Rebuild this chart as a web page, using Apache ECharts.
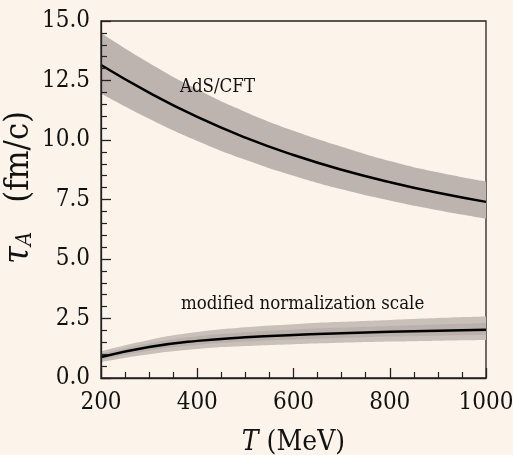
<!DOCTYPE html>
<html>
<head>
<meta charset="utf-8">
<script src="https://cdn.jsdelivr.net/npm/echarts@6/dist/echarts.min.js"></script>
<style>
  html, body { margin: 0; padding: 0; background: #fcf4ea; }
  #main { width: 513px; height: 455px; }
</style>
</head>
<body>
<div id="main"></div>
<script>
// temperatures (MeV)
var temps = [200, 300, 400, 500, 600, 700, 800, 900, 1000];
// AdS/CFT curve and its band
var adsMid = [13.15, 11.99, 10.97, 10.1, 9.37, 8.75, 8.23, 7.78, 7.4];
var adsHi = [14.5, 13.24, 12.13, 11.18, 10.39, 9.72, 9.12, 8.64, 8.25];
var adsLo = [11.95, 10.89, 9.96, 9.17, 8.5, 7.93, 7.46, 7.05, 6.7];
// modified normalization scale curve and its bands
var modMid = [0.88, 1.3, 1.56, 1.71, 1.81, 1.88, 1.94, 1.99, 2.03];
var modHi = [1.12, 1.6, 1.93, 2.13, 2.26, 2.36, 2.44, 2.52, 2.58];
var modLo = [0.67, 1.0, 1.22, 1.34, 1.42, 1.48, 1.53, 1.57, 1.6];
var modInHi = [1.01, 1.45, 1.75, 1.92, 2.04, 2.12, 2.19, 2.25, 2.31];
var modInLo = [0.77, 1.15, 1.39, 1.53, 1.62, 1.68, 1.74, 1.78, 1.82];

var FONT = "'DejaVu Serif Condensed', 'DejaVu Serif', serif";
var INK = '#111';

function diff(a, b) {
  var out = [];
  for (var i = 0; i < a.length; i++) {
    out.push(+(a[i] - b[i]).toFixed(3));
  }
  return out;
}
// band = invisible base + stacked filled difference (on the hidden category axis)
function band(name, lo, hi, color) {
  return [
    {
      type: 'line', xAxisIndex: 1, stack: name, data: lo, smooth: true,
      symbol: 'none', lineStyle: {opacity: 0}, silent: true
    },
    {
      type: 'line', xAxisIndex: 1, stack: name, data: diff(hi, lo), smooth: true,
      symbol: 'none', lineStyle: {opacity: 0}, silent: true,
      areaStyle: {color: color, opacity: 1}
    }
  ];
}
function curve(ys) {
  return {
    type: 'line', xAxisIndex: 1, data: ys, smooth: true, symbol: 'none',
    lineStyle: {color: '#000', width: 2.5}, silent: true, z: 5
  };
}

var chart = echarts.init(document.getElementById('main'));
var series = []
  .concat(band('ads', adsLo, adsHi, '#bdb4af'))
  .concat(band('modOut', modLo, modHi, '#c9c0ba'))
  .concat(band('modIn', modInLo, modInHi, '#bab1ac'));
series.push(curve(adsMid));
series.push(curve(modMid));

var option = {
  backgroundColor: '#fcf4ea',
  animation: false,
  grid: {
    left: 101, top: 21, right: 27, bottom: 77,
    outerBoundsMode: 'none', containLabel: false,
    show: true, borderColor: '#222', borderWidth: 1.3, backgroundColor: 'transparent'
  },
  xAxis: [{
    type: 'value', min: 200, max: 1000, interval: 200,
    name: '{it|T} (MeV)', nameLocation: 'middle', nameGap: 51,
    nameTextStyle: {
      fontFamily: FONT, fontSize: 28, color: INK,
      rich: {it: {fontFamily: FONT, fontSize: 28, fontStyle: 'italic', color: INK}}
    },
    axisLine: {lineStyle: {color: '#222', width: 1.3}},
    axisTick: {inside: true, length: 10, lineStyle: {color: '#222', width: 1.3}},
    minorTick: {show: true, splitNumber: 4, length: 6, lineStyle: {color: '#222', width: 1.2}},
    splitLine: {show: false},
    axisLabel: {
      fontFamily: FONT, fontSize: 24, color: INK, margin: 13,
      formatter: function (v) { return String(v); }
    },
    z: 6
  }, {
    type: 'category', data: temps, boundaryGap: false, show: false
  }],
  yAxis: {
    type: 'value', min: 0, max: 15, interval: 2.5,
    name: '{t|τ}{s|A}   (fm/c)', nameLocation: 'middle', nameGap: 64, nameRotate: 90,
    nameMoveOverlap: false,
    nameTextStyle: {
      fontFamily: FONT, fontSize: 34, color: INK, padding: [0, 0, 0, 24],
      rich: {
        t: {fontFamily: FONT, fontSize: 36, fontStyle: 'italic', color: INK},
        s: {fontFamily: FONT, fontSize: 22, fontStyle: 'italic', color: INK, padding: [12, 0, 0, 0]}
      }
    },
    axisLine: {lineStyle: {color: '#222', width: 1.3}},
    axisTick: {inside: true, length: 10, lineStyle: {color: '#222', width: 1.3}},
    minorTick: {show: true, splitNumber: 5, length: 6, lineStyle: {color: '#222', width: 1.2}},
    splitLine: {show: false},
    axisLabel: {
      fontFamily: FONT, fontSize: 24, color: INK, margin: 11,
      formatter: function (v) { return v.toFixed(1); }
    },
    z: 6
  },
  series: series
};
chart.setOption(option);

// text annotations placed in data coordinates
var notes = [
  {text: 'AdS/CFT', at: [364, 12.2]},
  {text: 'modified normalization scale', at: [366, 3.1]}
];
var elements = [];
for (var i = 0; i < notes.length; i++) {
  var p = chart.convertToPixel({xAxisIndex: 0, yAxisIndex: 0}, notes[i].at);
  elements.push({
    type: 'text', x: p[0], y: p[1], z: 10,
    style: {
      text: notes[i].text, fontFamily: FONT, fontSize: 18.5, fill: INK,
      textAlign: 'left', textVerticalAlign: 'middle'
    }
  });
}
chart.setOption({graphic: elements});
</script>
</body>
</html>
